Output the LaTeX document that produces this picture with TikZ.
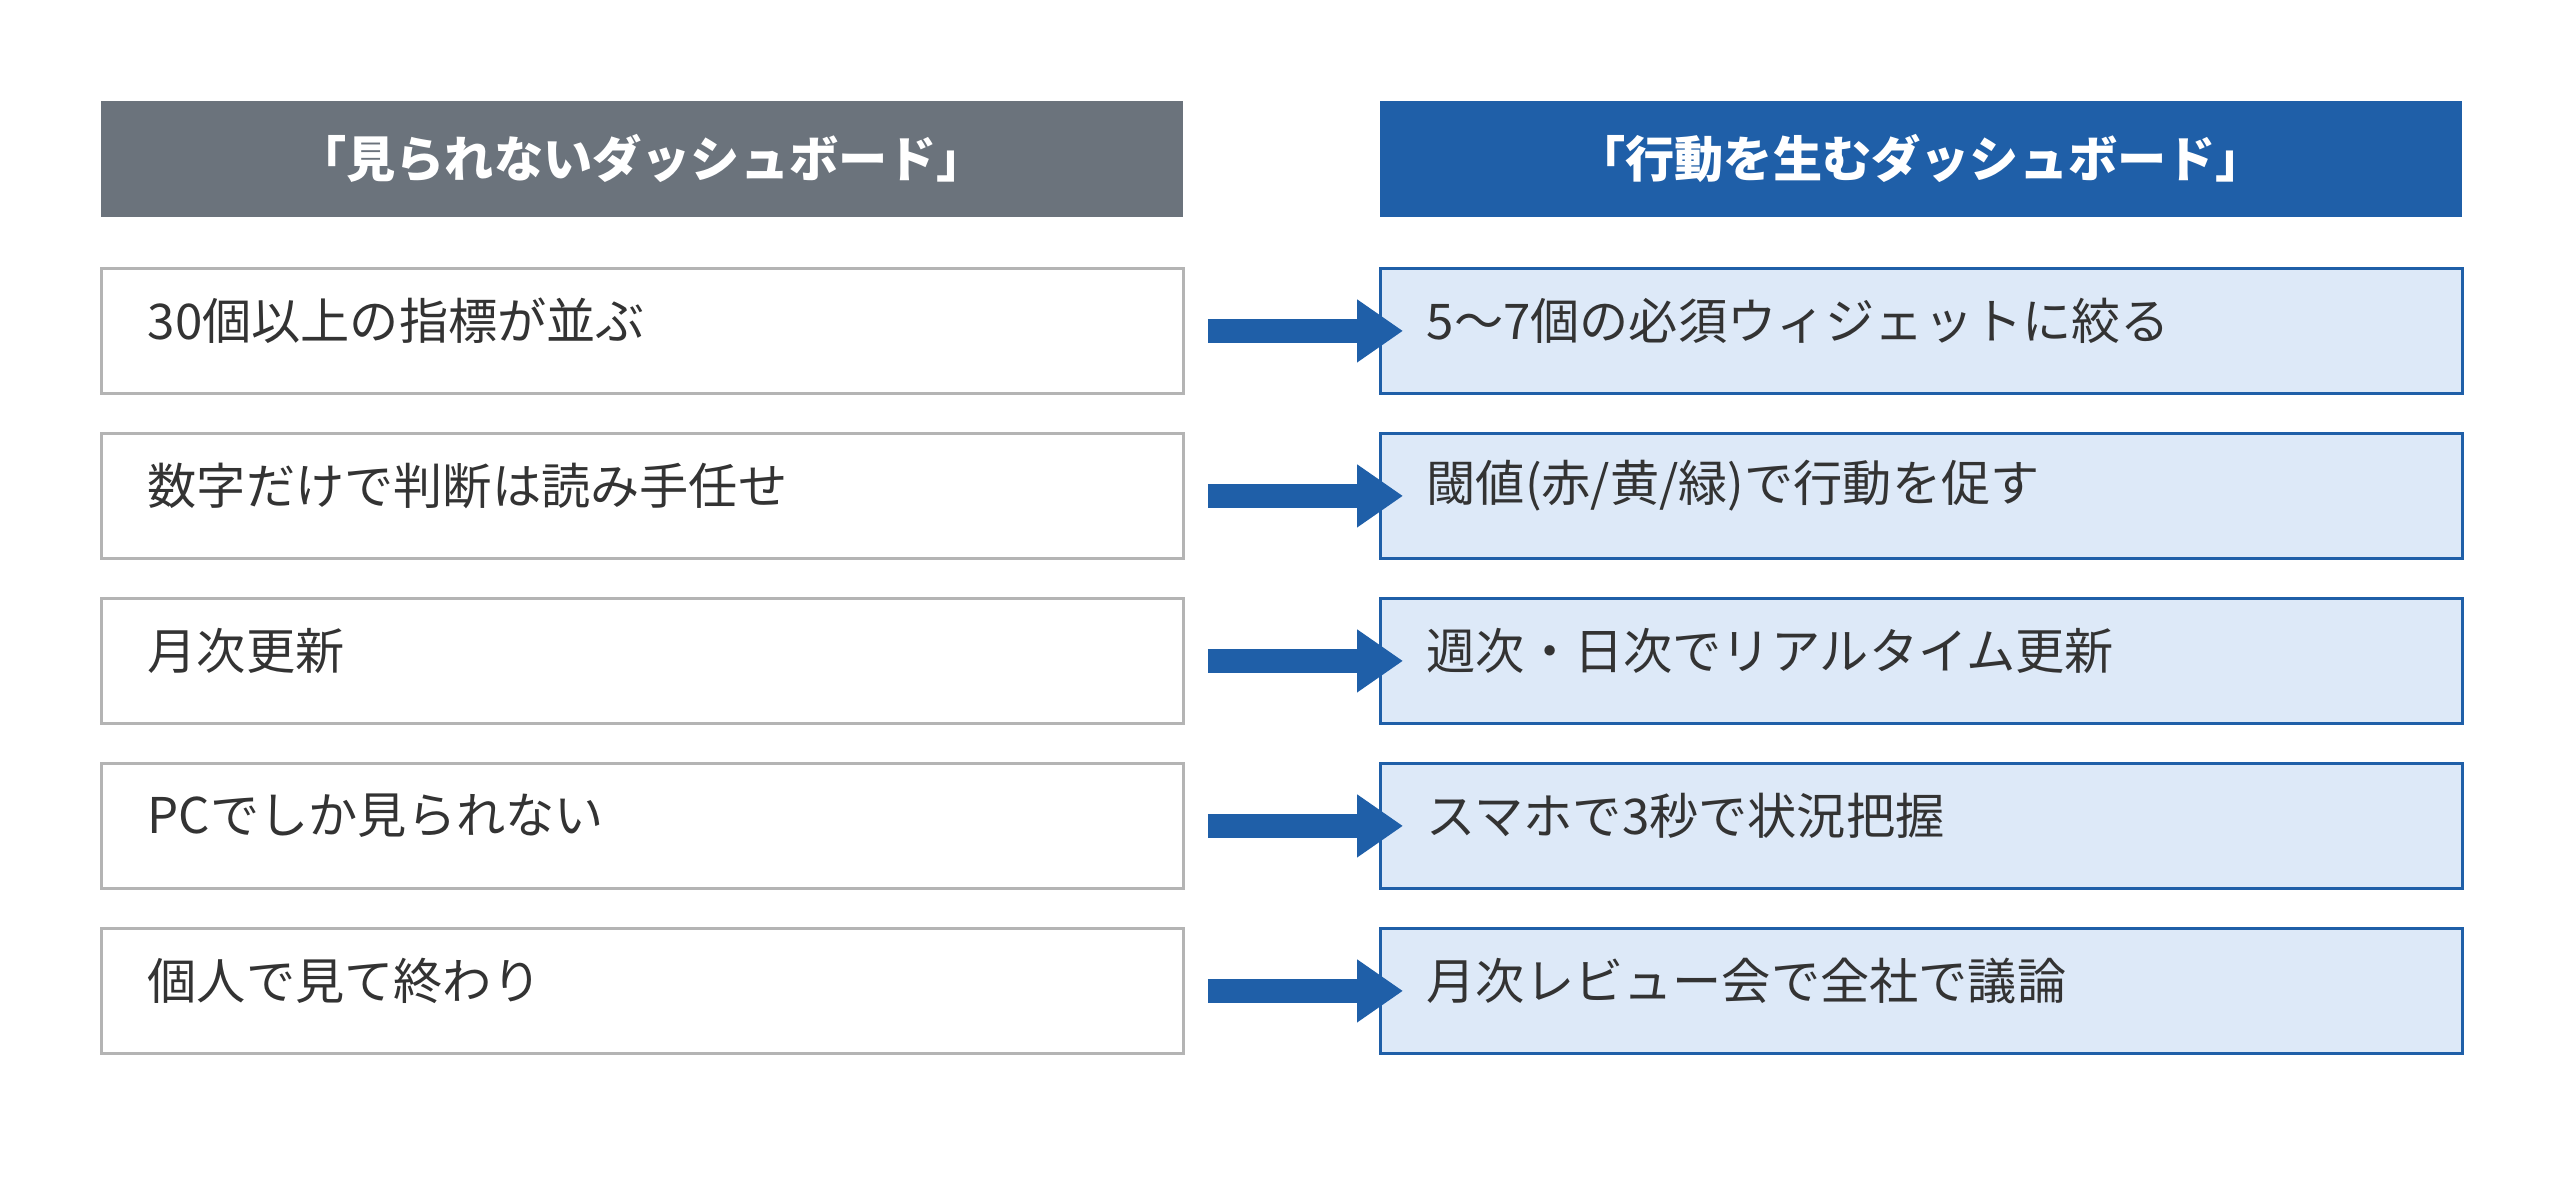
\documentclass[tikz,border=0pt]{standalone}
\usepackage{fontspec}
\setmainfont{Noto Sans CJK JP}
\usetikzlibrary{arrows.meta, positioning}
\definecolor{headgray}{HTML}{6B737C}
\definecolor{headblue}{HTML}{1F5FA8}
\definecolor{boxgray}{HTML}{B4B4B4}
\definecolor{boxfill}{HTML}{DDE9F8}
\definecolor{txt}{HTML}{333333}
\tikzset{
  head/.style={minimum width=10.82cm, minimum height=1.16cm, inner sep=0pt,
    text=white, font=\fontsize{14pt}{16pt}\selectfont\bfseries},
  item/.style={draw, line width=0.8pt, minimum width=10.82cm, minimum height=1.25cm,
    inner sep=0pt, text=txt, font=\fontsize{14pt}{16pt}\selectfont},
  olditem/.style={item, draw=boxgray, fill=white},
  newitem/.style={item, draw=headblue, fill=boxfill},
  go/.style={headblue, line width=0.24cm, -{Triangle[length=0.46cm, width=0.6cm]},
    shorten >=-0.24cm}
}
\begin{document}
\begin{tikzpicture}
  \useasboundingbox (0,0) rectangle (25.6,-11.91);

  % headers
  \node[head, fill=headgray, anchor=north west] (oldh) at (1.0,-1.0) {「見られないダッシュボード」};
  \node[head, fill=headblue, anchor=north west] (newh) at (13.79,-1.0) {「行動を生むダッシュボード」};

  % rows
  \foreach \i/\old/\new in {
      1/{30個以上の指標が並ぶ}/{5〜7個の必須ウィジェットに絞る},
      2/{数字だけで判断は読み手任せ}/{閾値(赤/黄/緑)で行動を促す},
      3/{月次更新}/{週次・日次でリアルタイム更新},
      4/{PCでしか見られない}/{スマホで3秒で状況把握},
      5/{個人で見て終わり}/{月次レビュー会で全社で議論}} {
    \node[olditem, anchor=north west] (o\i) at (1.0,{-2.67-1.65*(\i-1)}) {};
    \node[newitem, anchor=north west] (n\i) at (13.79,{-2.67-1.65*(\i-1)}) {};
    \node[anchor=west, text=txt, font=\fontsize{14pt}{16pt}\selectfont, inner sep=0pt]
      at ([xshift=0.47cm, yshift=0.1cm]o\i.west) {\old};
    \node[anchor=west, text=txt, font=\fontsize{14pt}{16pt}\selectfont, inner sep=0pt]
      at ([xshift=0.47cm, yshift=0.1cm]n\i.west) {\new};
    \coordinate (s\i) at ([xshift=0.23cm]o\i.east);
    \draw[go] (s\i) -- (n\i.west);
  }
\end{tikzpicture}
\end{document}
